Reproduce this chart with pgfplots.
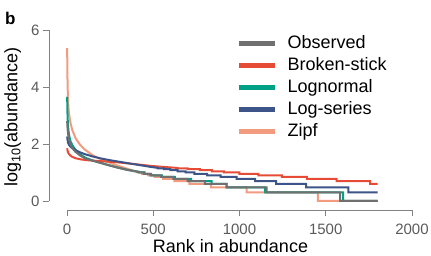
\documentclass[border=0pt]{standalone}
\usepackage{fontspec}
\setmainfont{Liberation Sans}
\usepackage{pgfplots}
\pgfplotsset{compat=1.18}
\definecolor{cobs}{RGB}{112,112,112}
\definecolor{cbs}{HTML}{E64B35}
\definecolor{cln}{HTML}{00A087}
\definecolor{cls}{HTML}{3C5488}
\definecolor{czf}{HTML}{F39B7F}
\definecolor{caxis}{RGB}{130,130,130}
\definecolor{ctick}{RGB}{90,90,90}
\begin{document}
\begin{tikzpicture}
\path[use as bounding box] (-49pt,-46pt) rectangle (382pt,210pt);
\begin{axis}[
  at={(0pt,0pt)}, anchor=south west,
  scale only axis, width=363pt, height=180pt,
  xmin=-104.3, xmax=2000, ymin=-0.316, ymax=6,
  axis x line*=bottom, axis y line*=left,
  axis line style={draw=none},
  xtick={0,500,1000,1500,2000}, ytick={0,2,4,6},
  tick align=outside, major tick length=6pt,
  tick style={caxis, line width=0.9pt},
  ticklabel style={font=\fontsize{15}{15}\selectfont, text=ctick},
  /pgf/number format/assume math mode=true,
  scaled x ticks=false, xticklabel style={/pgf/number format/1000 sep={}, yshift=-4pt},
  xlabel={Rank in abundance}, ylabel={log\textsubscript{10}(abundance)},
  label style={font=\fontsize{18}{18}\selectfont},
  xlabel style={at={(axis description cs:0.5,0)}, anchor=base, yshift=-43pt},
  ylabel style={at={(axis description cs:-0.0868,0.517)}, anchor=base},
  clip=false,
  legend style={at={(rel axis cs:0.518,0.976)}, anchor=north west, draw=none, fill=none,
    inner sep=0pt, outer sep=0pt, font=\fontsize{18}{18}\selectfont,
    nodes={inner sep=0pt, text height=14pt, text depth=4pt},
    /tikz/row sep=4pt, /tikz/column sep=10pt},
  legend cell align=left,
  legend image code/.code={\draw[#1, line width=4.5pt] (0pt,0pt) -- (36pt,0pt);},
]
\addlegendimage{cobs}\addlegendentry{Observed}
\addlegendimage{cbs}\addlegendentry{Broken-stick}
\addlegendimage{cln}\addlegendentry{Lognormal}
\addlegendimage{cls}\addlegendentry{Log-series}
\addlegendimage{czf}\addlegendentry{Zipf}

% Zipf
\addplot[czf, line width=2pt, forget plot] coordinates {
(1,5.36)(2,4.7)(3,4.25)(5,3.7)(8,3.3)(12,3.05)(20,2.75)(30,2.5)(50,2.2)(75,1.98)(100,1.82)(150,1.6)(200,1.46)(250,1.34)(300,1.23)(350,1.13)(408,1.021)
(408,1)(435,1)(435,0.9542)(469,0.9542)(469,0.9031)(508,0.9031)(508,0.8451)(558,0.8451)(558,0.7782)(623,0.7782)(623,0.699)(710,0.699)(710,0.6021)(835,0.6021)(835,0.4771)(1041,0.4771)(1041,0.301)(1455,0.301)(1455,0)(1800,0)};
% Lognormal
\addplot[cln, line width=2pt, forget plot] coordinates {
(1,3.65)(2,3.3)(3,3.05)(5,2.75)(8,2.5)(12,2.32)(20,2.1)(30,1.97)(48,1.8)(75,1.64)(106,1.52)(150,1.42)(191,1.35)(250,1.245)(300,1.165)(350,1.095)(420,1.021)
(420,1)(450,1)(450,0.9542)(488,0.9542)(488,0.9031)(550,0.9031)(550,0.8451)(625,0.8451)(625,0.7782)(720,0.7782)(720,0.699)(839,0.699)(839,0.6021)(926,0.6021)(926,0.4771)(1148,0.4771)(1148,0.301)(1600,0.301)(1600,0)(1800,0)};
% Broken-stick
\addplot[cbs, line width=2pt, forget plot] coordinates {
(1,1.85)(3,1.78)(6,1.71)(10,1.66)(20,1.59)(30,1.55)(50,1.5)(80,1.46)(120,1.43)(191,1.40)(288,1.36)(400,1.29)(481,1.235)(560,1.195)(640,1.161)
(640,1.1461)(700,1.1461)(700,1.1139)(770,1.1139)(770,1.0792)(840,1.0792)(840,1.0414)(910,1.0414)(910,1)(1000,1)(1000,0.9542)(1109,0.9542)(1109,0.9031)(1245,0.9031)(1245,0.8451)(1390,0.8451)(1390,0.7782)(1563,0.7782)(1563,0.699)(1757,0.699)(1757,0.6021)(1800,0.6021)};
% Log-series
\addplot[cls, line width=2pt, forget plot] coordinates {
(1,2.26)(3,2.15)(6,2.05)(12,1.96)(25,1.88)(50,1.78)(75,1.71)(100,1.65)(150,1.56)(191,1.50)(250,1.43)(300,1.38)(400,1.28)(481,1.2)(526,1.161)
(526,1.1461)(562,1.1461)(562,1.1139)(600,1.1139)(600,1.0792)(642,1.0792)(642,1.0414)(688,1.0414)(688,1)(738,1)(738,0.9542)(812,0.9542)(812,0.9031)(891,0.9031)(891,0.8451)(983,0.8451)(983,0.7782)(1090,0.7782)(1090,0.699)(1212,0.699)(1212,0.6021)(1386,0.6021)(1386,0.4771)(1631,0.4771)(1631,0.301)(1800,0.301)};
% Observed
\addplot[cobs, line width=2pt, forget plot] coordinates {
(1,2.8)(2,2.68)(3,2.58)(5,2.43)(8,2.28)(12,2.15)(20,1.98)(30,1.86)(48,1.73)(75,1.6)(106,1.49)(150,1.41)(191,1.34)(250,1.24)(300,1.16)(350,1.09)(415,1.021)
(415,1)(445,1)(445,0.9542)(483,0.9542)(483,0.9031)(545,0.9031)(545,0.8451)(616,0.8451)(616,0.7782)(700,0.7782)(700,0.699)(800,0.699)(800,0.6021)(926,0.6021)(926,0.4771)(1157,0.4771)(1157,0.301)(1583,0.301)(1583,0)(1800,0)};

\draw[caxis, line width=0.9pt] (axis cs:0,-0.316) -- (axis cs:2000,-0.316);
\draw[caxis, line width=0.9pt] (axis cs:-104.3,0) -- (axis cs:-104.3,6);
\end{axis}
\node[font=\bfseries\fontsize{17}{17}\selectfont, anchor=base west, inner sep=0pt] at (-44pt,185pt) {b};
\end{tikzpicture}
\end{document}
